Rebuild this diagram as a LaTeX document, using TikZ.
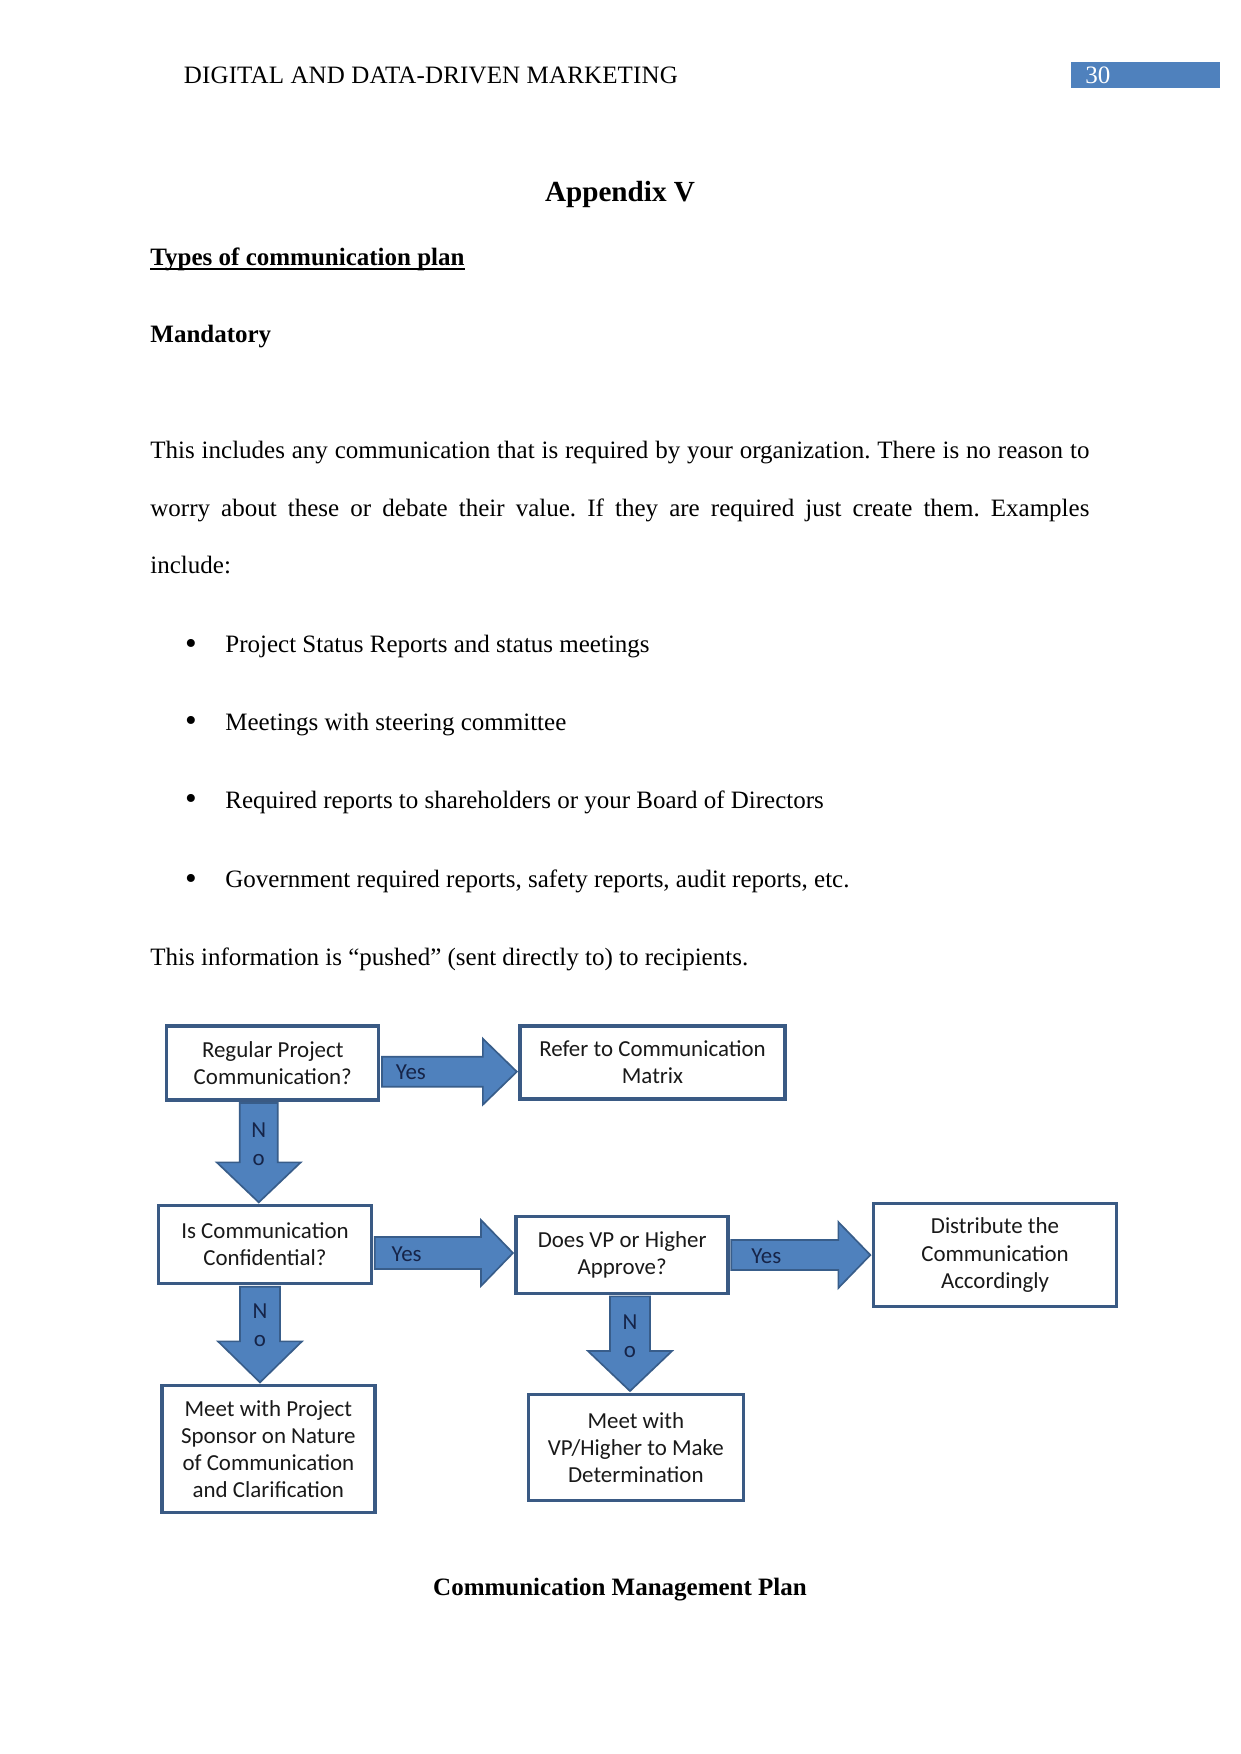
\documentclass[tikz,border=0pt]{standalone}
\usepackage{fontspec}
\setmainfont{Liberation Serif}
\newfontfamily\calibri{Carlito}
\usetikzlibrary{calc}
\frenchspacing
\definecolor{boxline}{RGB}{58,90,132}
\definecolor{arrowfill}{RGB}{79,129,189}
\definecolor{arrowline}{RGB}{56,93,138}
\definecolor{labelnavy}{RGB}{22,36,72}
\definecolor{pagebox}{RGB}{79,129,189}
\newcommand\pxu{0.48pt}
\tikzset{
  body/.style={font=\fontsize{12}{14}\selectfont, inner sep=0pt, anchor=base west},
  flowbox/.style={draw=boxline, line width=1.6pt, fill=white, align=center,
    font=\calibri\fontsize{11}{13}\selectfont, text=black!90, inner sep=2pt},
  blockarrow/.style={fill=arrowfill, draw=arrowline, line width=0.8pt, line join=miter},
  arrowlabel/.style={font=\calibri\fontsize{11}{13.5}\selectfont, text=labelnavy, inner sep=0pt, align=center},
}
% #1 from, #2 to, #3 dy, #4 shaft half, #5 head half, #6 head length, #7 label offset
\newcommand\hblockarrow[7]{%
  \coordinate (s) at ($(#1.east)+(1.5,#3)$);
  \coordinate (t) at ($(s -| #2.west)+(-1.5,0)$);
  \draw[blockarrow] ($(s)+(0,-#4)$) -- ($(t)+(-#6,-#4)$) -- ($(t)+(-#6,-#5)$) -- (t)
    -- ($(t)+(-#6,#5)$) -- ($(t)+(-#6,#4)$) -- ($(s)+(0,#4)$) -- cycle;
  \node[arrowlabel] at ($(s)+(#7,1)$) {Yes};
}
\newcommand\vblockarrow[7]{%
  \coordinate (s) at ($(#1.south)+(#3,1.5)$);
  \coordinate (t) at ($(s |- #2.north)+(0,-1.5)$);
  \draw[blockarrow] ($(s)+(-#4,0)$) -- ($(t)+(-#4,-#6)$) -- ($(t)+(-#5,-#6)$) -- (t)
    -- ($(t)+(#5,-#6)$) -- ($(t)+(#4,-#6)$) -- ($(s)+(#4,0)$) -- cycle;
  \node[arrowlabel] at ($(s)+(0,#7)$) {N\\o};
}
\begin{document}
\begin{tikzpicture}[x=0.48pt, y=-0.48pt]
\useasboundingbox (0,0) rectangle (1241,1754);
\fill[white] (0,0) rectangle (1241,1754);

% header
\node[body] (header) at (183.5,83) {\addfontfeature{LetterSpace=0.6}DIGITAL AND DATA-DRIVEN MARKETING};
\fill[pagebox] (1071,61.5) rectangle (1220,88.4);
\node[body, text=white] (pagenum) at (1085,83) {30};

% titles
\node[font=\fontsize{14}{16}\selectfont\bfseries, inner sep=0pt, anchor=base] (appx) at (620,201) {Appendix V};
\node[body, font=\fontsize{12}{14}\selectfont\bfseries] (types) at (150,265) {Types of communication plan};
\draw[line width=0.6pt] ($(types.base west)+(0,4)$) -- ($(types.base east)+(0,4)$);
\node[body, font=\fontsize{12}{14}\selectfont\bfseries] (mand) at (150,342) {Mandatory};

% paragraph
\node[body] (p1) at (150,458) {\makebox[450.7pt][s]{This includes any communication that is required by your organization. There is no reason to}};
\node[body] (p2) at (150,516) {\makebox[450.7pt][s]{worry about these or debate their value. If they are required just create them. Examples}};
\node[body] (p3) at (150,573) {include:};

% bullets
\foreach \yy/\txt [count=\i] in {652.5/{Project Status Reports and status meetings},
  730/{Meetings with steering committee},
  808/{Required reports to shareholders or your Board of Directors},
  887.5/{Government required reports, safety reports, audit reports, etc.}}{
  \node[font=\fontsize{16}{18}\selectfont, inner sep=0pt, anchor=base] (bul\i) at (191,\yy+1.5) {\textbullet};
  \node[body] (btxt\i) at (225,\yy) {\txt};
}
\node[body] (pushed) at (150,965) {This information is “pushed” (sent directly to) to recipients.};

% flowchart boxes
\node[flowbox, minimum width=212*\pxu, minimum height=74*\pxu] (A) at (272.75,1062.85) {Regular Project\\Communication?};
\node[flowbox, minimum width=265*\pxu, minimum height=73*\pxu] (B) at (652.5,1062.35) {Refer to Communication\\Matrix};
\node[flowbox, minimum width=213*\pxu, minimum height=78*\pxu] (C) at (265,1244.5) {Is Communication\\Confidential?};
\node[flowbox, minimum width=212*\pxu, minimum height=77*\pxu] (D) at (622.15,1254.65) {Does VP or Higher\\Approve?};
\node[flowbox, minimum width=243*\pxu, minimum height=103*\pxu] (F) at (995,1255) {Distribute the\\Communication\\Accordingly};
\node[flowbox, minimum width=213*\pxu, minimum height=127*\pxu] (E) at (268.35,1449) {Meet with Project\\Sponsor on Nature\\of Communication\\and Clarification};
\node[flowbox, minimum width=215*\pxu, minimum height=106*\pxu] (G) at (635.85,1447.2) {Meet with\\VP/Higher to Make\\Determination};

% block arrows
\hblockarrow{A}{B}{8.85}{15}{33}{34}{29}
\hblockarrow{C}{D}{8.5}{16}{33}{32}{32}
\hblockarrow{D}{F}{0.35}{15}{33}{32}{35}
\vblockarrow{A}{C}{-14}{19}{42}{40}{41}
\vblockarrow{C}{E}{-5}{20}{42}{41}{38.5}
\vblockarrow{D}{G}{7.85}{20}{42}{40}{40}

% caption
\node[font=\fontsize{12}{14}\selectfont\bfseries, inner sep=0pt, anchor=base] (caption) at (620,1595) {Communication Management Plan};
\end{tikzpicture}
\end{document}
